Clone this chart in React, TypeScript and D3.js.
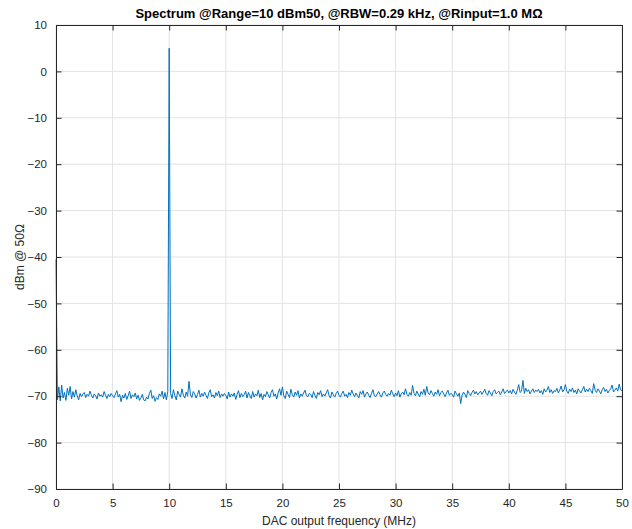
import { useEffect, useRef } from "react";
import * as d3 from "d3";

// spectrum sampled every 0.125 MHz from 0 to 50 MHz (dBm)
const freqStep = 0.125;
const levels: number[] = [
  -40.5, -70.8, -68.0, -71.0, -67.6, -70.4, -69.2, -70.9, -68.3, -69.8, -67.9, -70.6, -69.0, -70.2, -68.6, -69.9, -70.8, -69.4, -70.1, -69.5,
  -69.2, -70.3, -69.6, -70.0, -68.9, -69.8, -70.4, -69.5, -69.9, -70.6, -69.3, -70.0, -69.7, -70.2, -69.0, -69.8, -70.5, -69.6, -70.1, -69.4,
  -69.9, -70.3, -69.5, -68.8, -70.2, -69.6, -71.2, -69.8, -70.4, -69.4, -70.7, -69.9, -68.9, -70.5, -69.7, -70.1, -69.3, -70.6, -69.8, -70.9,
  -70.4, -69.6, -70.8, -71.0, -70.2, -70.6, -69.4, -68.7, -70.5, -69.9, -71.1, -70.3, -70.7, -69.5, -70.0, -68.9, -70.6, -69.2, -70.8, -69.0,
  5.0, -69.4, -70.5, -68.6, -69.9, -70.8, -68.9, -69.6, -70.2, -68.4, -69.8, -70.4, -69.1, -70.0, -66.8, -69.7, -70.3, -69.0, -69.5, -70.4,
  -69.6, -68.7, -70.2, -69.4, -70.0, -69.1, -69.8, -70.5, -69.3, -68.6, -70.1, -69.7, -70.4, -69.2, -69.9, -68.9, -70.3, -69.5, -70.0, -69.4,
  -69.8, -70.6, -69.1, -70.2, -69.5, -70.0, -69.3, -70.7, -69.6, -68.8, -70.3, -69.4, -70.1, -69.7, -68.9, -70.4, -69.2, -69.9, -70.5, -69.0,
  -70.2, -69.5, -69.9, -68.7, -70.3, -69.4, -70.8, -69.6, -70.1, -69.0, -69.7, -70.4, -69.2, -68.6, -70.0, -69.5, -70.6, -69.3, -68.4, -69.8,
  -68.0, -69.9, -70.5, -68.9, -69.6, -70.3, -68.5, -69.7, -70.2, -69.1, -69.8, -68.8, -70.4, -69.5, -70.0, -69.3, -68.7, -69.9, -70.1, -69.4,
  -69.6, -70.3, -69.0, -69.8, -70.5, -69.2, -69.7, -68.8, -70.1, -69.5, -70.0, -69.3, -68.6, -69.9, -70.4, -69.1, -69.7, -70.2, -69.4, -68.9,
  -69.8, -70.2, -69.4, -68.9, -70.0, -69.6, -70.3, -69.2, -69.8, -68.7, -69.5, -70.1, -69.3, -69.9, -70.4, -69.0, -69.6, -68.8, -70.2, -69.5,
  -69.1, -69.8, -70.3, -69.4, -68.6, -69.9, -70.1, -69.5, -69.0, -69.7, -70.2, -69.3, -68.9, -69.6, -70.0, -69.4, -69.8, -68.7, -69.5, -70.1,
  -69.3, -69.9, -68.8, -70.2, -69.5, -69.1, -69.7, -68.4, -69.6, -70.0, -69.2, -69.8, -67.7, -69.4, -69.9, -68.9, -69.5, -70.1, -69.0, -69.6,
  -68.5, -69.8, -67.9, -69.3, -69.7, -68.8, -69.4, -70.0, -69.1, -69.6, -68.6, -69.9, -69.2, -68.9, -69.5, -70.1, -69.3, -68.7, -69.8, -69.4,
  -69.6, -70.2, -68.9, -69.5, -70.0, -69.3, -71.6, -69.8, -69.1, -69.6, -70.3, -68.8, -69.4, -69.9, -69.2, -68.7, -69.5, -69.0, -69.7, -69.3,
  -68.9, -69.6, -69.1, -68.5, -69.4, -69.8, -68.8, -69.3, -69.9, -69.0, -68.6, -69.5, -69.2, -68.9, -69.7, -69.1, -68.4, -69.4, -69.0, -68.7,
  -69.3, -68.8, -69.5, -68.5, -69.1, -69.6, -68.7, -67.5, -69.2, -68.9, -66.6, -69.4, -68.3, -69.0, -68.6, -69.5, -68.9, -68.4, -69.2, -68.7,
  -69.0, -68.5, -69.3, -68.8, -69.6, -68.4, -69.1, -68.7, -67.9, -69.2, -68.6, -69.4, -68.8, -69.0, -68.3, -69.3, -68.7, -67.8, -69.1, -68.6,
  -67.5, -68.9, -69.4, -68.5, -69.0, -68.2, -69.2, -68.7, -69.5, -68.4, -68.9, -69.3, -68.6, -67.9, -69.1, -68.5, -69.0, -68.3, -68.8, -69.4,
  -67.3, -68.7, -69.2, -68.4, -68.9, -69.5, -68.6, -68.1, -69.0, -68.5, -69.3, -68.8, -68.4, -67.6, -69.1, -68.7, -68.2, -68.9, -67.4, -68.6,
  -68.8,
];

const xTicks = [0, 5, 10, 15, 20, 25, 30, 35, 40, 45, 50];
const yTicks = [-90, -80, -70, -60, -50, -40, -30, -20, -10, 0, 10];

const titleText = "Spectrum @Range=10 dBm50, @RBW=0.29 kHz, @Rinput=1.0 MΩ";
const xLabel = "DAC output frequency (MHz)";
const yLabel = "dBm @ 50Ω";

const App = () => {
  const svgRef = useRef<SVGSVGElement>(null);

  useEffect(() => {
    const width = 632;
    const height = 529;
    const svg = d3.select(svgRef.current).attr("width", width).attr("height", height);
    svg.selectAll("*").remove();

    const margin = { top: 25, right: 10, bottom: 40, left: 56 };
    const w = width - margin.left - margin.right;
    const h = height - margin.top - margin.bottom;
    const font = "'Liberation Sans', Arial, Helvetica, sans-serif";
    const axisColor = "#262626";

    svg.append("rect").attr("width", width).attr("height", height).attr("fill", "#fff");

    const g = svg.append("g").attr("transform", `translate(${margin.left},${margin.top})`);

    const x = d3.scaleLinear().domain([0, 50]).range([0, w]);
    const y = d3.scaleLinear().domain([-90, 10]).range([h, 0]);

    // grid
    g.append("g")
      .selectAll("line")
      .data(xTicks)
      .enter()
      .append("line")
      .attr("x1", (d) => x(d))
      .attr("x2", (d) => x(d))
      .attr("y1", 0)
      .attr("y2", h)
      .attr("stroke", "#e3e3e3")
      .attr("stroke-width", 1);
    g.append("g")
      .selectAll("line")
      .data(yTicks)
      .enter()
      .append("line")
      .attr("x1", 0)
      .attr("x2", w)
      .attr("y1", (d) => y(d))
      .attr("y2", (d) => y(d))
      .attr("stroke", "#e3e3e3")
      .attr("stroke-width", 1);

    // spectrum trace
    const line = d3
      .line<number>()
      .x((d, i) => x(i * freqStep))
      .y((d) => y(d));
    g.append("path")
      .datum(levels)
      .attr("d", line)
      .attr("fill", "none")
      .attr("stroke", "#0072BD")
      .attr("stroke-width", 1)
      .attr("stroke-linejoin", "round");

    // axes (box with inward ticks on all sides)
    const tickLen = 5.5;
    const styleAxis = (sel: any) => {
      sel.select(".domain").attr("stroke", axisColor);
      sel.selectAll(".tick line").attr("stroke", axisColor);
      sel.selectAll(".tick text")
        .attr("fill", axisColor)
        .style("font-family", font)
        .style("font-size", "11.5px");
    };

    g.append("g")
      .attr("transform", `translate(0,${h})`)
      .call(d3.axisBottom(x).tickValues(xTicks).tickSizeInner(-tickLen).tickSizeOuter(0).tickPadding(10).tickFormat(d3.format("d")))
      .call(styleAxis);
    g.append("g")
      .call(d3.axisTop(x).tickValues(xTicks).tickSizeInner(-tickLen).tickSizeOuter(0).tickFormat(() => ""))
      .call(styleAxis);
    g.append("g")
      .call(d3.axisLeft(y).tickValues(yTicks).tickSizeInner(-tickLen).tickSizeOuter(0).tickPadding(9).tickFormat(d3.format("d")))
      .call(styleAxis);
    g.append("g")
      .attr("transform", `translate(${w},0)`)
      .call(d3.axisRight(y).tickValues(yTicks).tickSizeInner(-tickLen).tickSizeOuter(0).tickFormat(() => ""))
      .call(styleAxis);

    // labels
    svg.append("text")
      .attr("x", margin.left + w / 2)
      .attr("y", 18)
      .attr("text-anchor", "middle")
      .attr("fill", "#000")
      .style("font-family", font)
      .style("font-size", "13px")
      .style("font-weight", "bold")
      .text(titleText);

    svg.append("text")
      .attr("x", margin.left + w / 2)
      .attr("y", 525)
      .attr("text-anchor", "middle")
      .attr("fill", axisColor)
      .style("font-family", font)
      .style("font-size", "12px")
      .text(xLabel);

    svg.append("text")
      .attr("transform", `translate(24,${margin.top + h / 2}) rotate(-90)`)
      .attr("text-anchor", "middle")
      .attr("fill", axisColor)
      .style("font-family", font)
      .style("font-size", "12px")
      .text(yLabel);
  }, []);

  return <svg ref={svgRef} style={{ position: "absolute", left: 0, top: 0 }}></svg>;
};

export default App;
